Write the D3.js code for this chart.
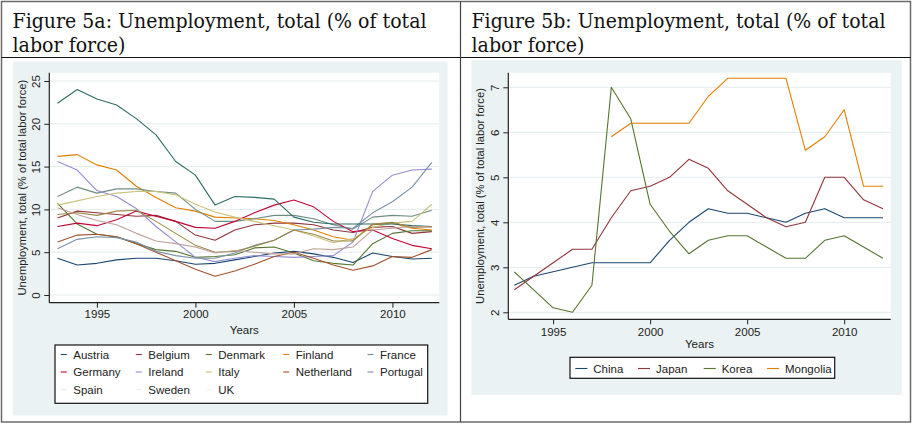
<!DOCTYPE html>
<html><head><meta charset="utf-8">
<script src="https://cdn.jsdelivr.net/npm/d3@7"></script>
<style>body{margin:0;background:#fff}svg{display:block}</style>
</head><body><svg id="c" width="913" height="428"></svg>
<script>
// ---------------- data ----------------
const years = [1993,1994,1995,1996,1997,1998,1999,2000,2001,2002,2003,2004,2005,2006,2007,2008,2009,2010,2011,2012];

const austria    = [4.3,3.5,3.7,4.1,4.3,4.3,4.0,3.6,3.7,4.1,4.5,4.9,5.1,4.8,4.4,3.8,4.9,4.5,4.2,4.3];
const belgium    = [9.0,9.8,9.6,9.4,9.2,9.3,8.6,7.0,6.4,7.6,8.2,8.4,8.4,8.2,7.6,7.3,7.9,8.0,7.2,7.4];
const denmark    = [10.7,8.3,7.1,6.8,6.0,5.3,5.1,4.4,4.5,4.7,5.5,5.6,4.9,4.0,3.7,3.5,6.0,7.2,7.5,7.5];
const finland    = [16.2,16.4,15.2,14.6,12.7,11.4,10.2,9.8,9.1,9.0,8.9,8.7,8.2,7.6,6.8,6.4,8.2,8.4,7.8,7.6];
const france     = [11.5,12.6,11.9,12.4,12.4,12.1,11.9,10.0,8.6,8.6,8.9,9.3,9.3,8.9,8.2,7.7,9.1,9.3,9.2,9.9];
const germany    = [8.0,8.4,8.1,8.8,9.8,9.2,8.6,7.9,7.8,8.6,9.6,10.5,11.1,10.3,8.6,7.4,7.6,6.6,5.8,5.4];
const ireland    = [15.6,14.6,12.2,11.5,10.1,8.0,6.2,4.4,3.9,4.3,4.6,4.5,4.4,4.5,4.6,6.2,12.1,14.0,14.6,14.7];
const italy      = [10.5,11.0,11.5,11.9,12.1,12.1,11.7,10.6,9.7,9.1,8.6,8.1,7.6,6.9,6.1,6.6,7.9,8.4,8.6,10.6];
const netherland = [6.2,7.0,7.1,6.8,6.0,5.0,4.0,3.0,2.2,2.8,3.6,4.5,5.0,4.3,3.5,2.9,3.4,4.5,4.4,5.3];
const portugal   = [5.4,6.5,6.8,6.7,6.2,5.1,4.6,4.3,4.3,4.9,5.8,6.4,7.6,7.7,7.9,7.8,9.6,10.9,12.6,15.5];
const spain      = [22.4,24.0,22.9,22.2,20.6,18.7,15.6,14.0,10.5,11.5,11.4,11.2,9.1,8.5,8.3,8.3,8.3,8.3,8.1,8.0];
const sweden     = [9.4,9.6,9.3,9.8,9.9,8.6,7.2,5.8,5.0,5.1,5.7,6.4,7.6,7.1,6.3,6.3,8.3,8.5,7.9,8.0];
const uk         = [10.2,9.4,8.7,8.2,7.2,6.3,6.0,5.6,4.9,5.2,5.0,4.8,4.8,5.4,5.3,5.6,7.6,7.8,8.0,7.9];

const china    = [2.6,2.8,2.9,3.0,3.1,3.1,3.1,3.1,3.6,4.0,4.3,4.2,4.2,4.1,4.0,4.2,4.3,4.1,4.1,4.1];
const japan    = [2.5,2.8,3.1,3.4,3.4,4.1,4.7,4.8,5.0,5.4,5.2,4.7,4.4,4.1,3.9,4.0,5.0,5.0,4.5,4.3];
const korea    = [2.9,2.5,2.1,2.0,2.6,7.0,6.3,4.4,3.8,3.3,3.6,3.7,3.7,3.45,3.2,3.2,3.6,3.7,3.45,3.2];
const mongolia = [null,null,null,null,null,5.9,6.2,6.2,6.2,6.2,6.8,7.2,7.2,7.2,7.2,5.6,5.9,6.5,4.8,4.8];

const euroNames  = ["Austria","Belgium","Denmark","Finland","France","Germany","Ireland","Italy","Netherland","Portugal","Spain","Sweden","UK"];
const euroValues = [austria,belgium,denmark,finland,france,germany,ireland,italy,netherland,portugal,spain,sweden,uk];
const euroColors = ["#1a476f","#90353b","#55752f","#e37e00","#6e8e84","#c10534","#938dd2","#cac27e","#a0522d","#7b92a8","#2d6d66","#9c8847","#bfa19c"];

const asiaNames  = ["China","Japan","Korea","Mongolia"];
const asiaValues = [china,japan,korea,mongolia];
const asiaColors = ["#1a476f","#90353b","#55752f","#e37e00"];

const euroYTicks = [0,5,10,15,20,25];
const asiaYTicks = [2,3,4,5,6,7];
const xTicks = [1995,2000,2005,2010];

const headerA = ["Figure 5a: Unemployment, total (% of total","labor force)"];
const headerB = ["Figure 5b: Unemployment, total (% of total","labor force)"];
const yTitle = "Unemployment, total (% of total labor force)";
const xTitle = "Years";

// ---------------- drawing ----------------
const svg = d3.select("#c");
const SANS = "'Liberation Sans', Arial, Helvetica, sans-serif";
svg.append("rect").attr("width",913).attr("height",428).attr("fill","#fff");

// table frame
svg.append("rect").attr("x",1.5).attr("y",1.5).attr("width",909).attr("height",420.5)
  .attr("fill","none").attr("stroke","#6b6b6b").attr("stroke-width",1.5);
svg.append("line").attr("x1",1.5).attr("x2",910.5).attr("y1",57.5).attr("y2",57.5).attr("stroke","#111").attr("stroke-width",1);
svg.append("line").attr("x1",460.5).attr("x2",460.5).attr("y1",1.5).attr("y2",422).attr("stroke","#444").attr("stroke-width",1.2);

function header(lines, x0) {
  const widths = [414, 113];
  lines.forEach((t,i) => {
    svg.append("text").attr("x",x0).attr("y",28 + i*24)
      .attr("font-family","'DejaVu Serif', Georgia, serif").attr("font-size",19.5)
      .attr("fill","#111").attr("textLength",widths[i]).attr("lengthAdjust","spacingAndGlyphs")
      .text(t);
  });
}
header(headerA, 12.5);
header(headerB, 471.5);

function panel(cfg) {
  const g = svg.append("g");
  g.append("rect").attr("x",cfg.bg[0]).attr("y",cfg.bg[1]).attr("width",cfg.bg[2]-cfg.bg[0]).attr("height",cfg.bg[3]-cfg.bg[1]).attr("fill","#eaf2f3");
  const [px0,py0,px1,py1] = cfg.plot;
  g.append("rect").attr("x",px0).attr("y",py0).attr("width",px1-px0).attr("height",py1-py0).attr("fill","#fff");

  const x = d3.scaleLinear().domain([1993,2012]).range(cfg.xr);
  const y = d3.scaleLinear().domain(cfg.yd).range(cfg.yr);

  // gridlines
  g.selectAll("line.grid").data(cfg.yTicks).join("line").attr("class","grid")
    .attr("x1",px0).attr("x2",px1).attr("y1",d=>y(d)).attr("y2",d=>y(d))
    .attr("stroke","#e4eced").attr("stroke-width",1);

  // lines
  const line = d3.line().defined(d=>d[1]!=null).x(d=>x(d[0])).y(d=>y(d[1]));
  cfg.values.forEach((vals,i) => {
    g.append("path").datum(years.map((yr,j)=>[yr,vals[j]]))
      .attr("d",line).attr("fill","none").attr("stroke",cfg.colors[i])
      .attr("stroke-width",1.1).attr("stroke-linejoin","round");
  });

  // y axis
  const ya = g.append("g").attr("transform",`translate(${px0},0)`)
    .call(d3.axisLeft(y).tickValues(cfg.yTicks).tickSize(5).tickFormat(d3.format("d")));
  ya.select(".domain").remove();
  ya.selectAll(".tick line").attr("stroke","#222");
  ya.selectAll(".tick text").attr("transform","rotate(-90)").attr("x",0).attr("y",-cfg.ylabOff).attr("dy",0)
    .attr("text-anchor","middle").attr("font-family",SANS).attr("font-size",11.5).attr("fill","#222");
  g.append("line").attr("x1",px0).attr("x2",px0).attr("y1",py0).attr("y2",py1).attr("stroke","#222").attr("stroke-width",1.2);

  // x axis
  const xa = g.append("g").attr("transform",`translate(0,${py1})`)
    .call(d3.axisBottom(x).tickValues(xTicks).tickSize(5).tickFormat(d3.format("d")));
  xa.select(".domain").remove();
  xa.selectAll(".tick line").attr("stroke","#222");
  xa.selectAll(".tick text").attr("y",cfg.xlabOff).attr("dy",0)
    .attr("font-family",SANS).attr("font-size",11.5).attr("fill","#222");
  g.append("line").attr("x1",px0).attr("x2",px1).attr("y1",py1).attr("y2",py1).attr("stroke","#222").attr("stroke-width",1.2);

  // titles
  g.append("text").attr("x",(px0+px1)/2).attr("y",cfg.xTitleY).attr("text-anchor","middle")
    .attr("font-family",SANS).attr("font-size",11.5).attr("fill","#222").text(xTitle);
  g.append("text").attr("transform",`translate(${cfg.yTitleX},${(py0+py1)/2}) rotate(-90)`).attr("text-anchor","middle")
    .attr("font-family",SANS).attr("font-size",11.2).attr("fill","#222").text(yTitle);

  // legend
  const L = cfg.legend;
  g.append("rect").attr("x",L.box[0]).attr("y",L.box[1]).attr("width",L.box[2]-L.box[0]).attr("height",L.box[3]-L.box[1])
    .attr("fill","#fff").attr("stroke","#111").attr("stroke-width",1.2);
  cfg.names.forEach((n,i) => {
    const col = i % L.cols, row = Math.floor(i / L.cols);
    const tx = L.colX[col], by = L.rowY[row];
    g.append("line").attr("x1",tx-L.gap).attr("x2",tx-L.gap+L.keyLen).attr("y1",by-4).attr("y2",by-4)
      .attr("stroke",cfg.colors[i]).attr("stroke-width",1.1).attr("opacity", L.faint && L.faint.includes(n) ? 0.12 : 1);
    g.append("text").attr("x",tx).attr("y",by).attr("font-family",SANS).attr("font-size",11.5).attr("fill","#222").text(n);
  });
}

panel({
  bg:[13,61.5,447.5,415.5], plot:[49.3,72.7,439.3,302.7],
  xr:[57.5,431.8], yd:[0,25], yr:[295,81],
  yTicks: euroYTicks, ylabOff: 9.8, xlabOff: 15.5, xTitleY: 333.5, yTitleX: 26,
  values: euroValues, colors: euroColors, names: euroNames,
  legend: {box:[55,345,427.7,403.3], cols:5, colX:[73.3,148.3,218.3,295.7,380], rowY:[358.5,376,393.5], gap:12.5, keyLen:6, faint:["Spain","Sweden","UK"]}
});

panel({
  bg:[471.5,60,901.7,395], plot:[508.3,72.7,890.7,319.3],
  xr:[514.3,883], yd:[2,7], yr:[312.3,87.3],
  yTicks: asiaYTicks, ylabOff: 9.3, xlabOff: 16.5, xTitleY: 348, yTitleX: 484,
  values: asiaValues, colors: asiaColors, names: asiaNames,
  legend: {box:[570,357.3,834.7,378.3], cols:4, colX:[593.3,656,721.7,785], rowY:[372.5], gap:18, keyLen:12}
});
</script></body></html>
